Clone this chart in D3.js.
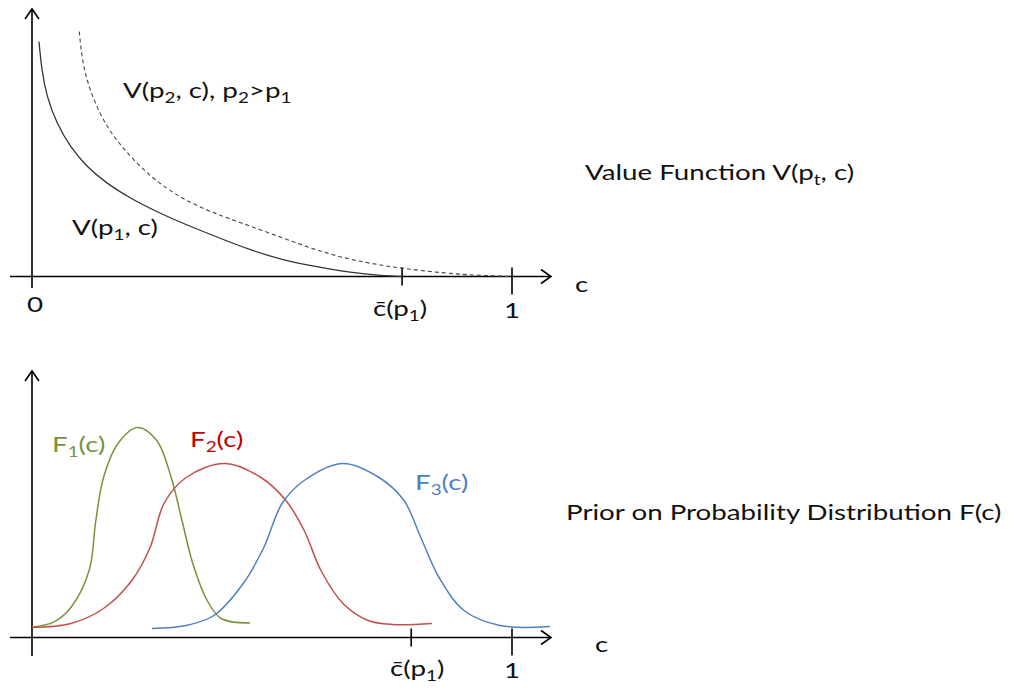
<!DOCTYPE html>
<html>
<head>
<meta charset="utf-8">
<script src="https://cdn.jsdelivr.net/npm/d3@7"></script>
<style>
  html, body { margin: 0; padding: 0; background: #fff; }
  svg text { font-family: Lato, "Open Sans", sans-serif; }
</style>
</head>
<body>
<svg id="chart" width="1015" height="692"></svg>
<script>
// ── data (c on [0,1], value in arbitrary units 0..10) ───────────
const vP1C = [0.0146, 0.0202, 0.0306, 0.0515, 0.0792, 0.114, 0.1556, 0.2042, 0.2598, 0.3223, 0.3917, 0.4542, 0.5229, 0.5938, 0.6625, 0.7313, 0.7708];
const vP1V = [9.03, 7.94, 6.92, 5.89, 4.99, 4.22, 3.58, 3.01, 2.49, 1.98, 1.47, 1.02, 0.63, 0.37, 0.15, 0.03, 0.0];
const vP2C = [0.0985, 0.1035, 0.114, 0.1313, 0.1556, 0.1869, 0.225, 0.2735, 0.3292, 0.3848, 0.4333, 0.5229, 0.5938, 0.6625, 0.7313, 0.7729, 0.8625, 0.9333, 1.0];
const vP2V = [9.42, 8.45, 7.56, 6.66, 5.76, 4.99, 4.22, 3.45, 2.83, 2.4, 2.08, 1.48, 1.0, 0.65, 0.42, 0.31, 0.12, 0.04, 0.0];

const f1C = [0, 0.045, 0.081, 0.119, 0.133, 0.149, 0.179, 0.22, 0.26, 0.29, 0.3125, 0.335, 0.365, 0.394, 0.454];
const f1V = [0.52, 0.77, 1.5, 3.35, 5.85, 8.0, 9.7, 10.5, 9.85, 8.0, 5.85, 3.7, 1.85, 0.95, 0.72];
const f2C = [0, 0.081, 0.149, 0.208, 0.246, 0.275, 0.321, 0.402, 0.477, 0.529, 0.567, 0.602, 0.648, 0.7, 0.752, 0.833];
const f2V = [0.5, 0.7, 1.45, 2.85, 4.5, 6.7, 8.0, 8.7, 8.0, 6.85, 5.35, 3.35, 1.7, 0.85, 0.65, 0.7];
const f3C = [0.25, 0.321, 0.379, 0.44, 0.483, 0.521, 0.567, 0.648, 0.723, 0.775, 0.81, 0.848, 0.9, 0.975, 1.079];
const f3V = [0.45, 0.6, 1.1, 2.7, 4.5, 6.7, 7.85, 8.7, 8.0, 6.85, 5.0, 3.0, 1.35, 0.6, 0.55];

// ticks: value on c axis
const topTicks = [0.771, 1];
const botTicks = [0.79, 1];

const zip = (xs, ys) => xs.map((x, i) => [x, ys[i]]);

const svg = d3.select("#chart");

// ── scales ──────────────────────────────────────────────────
const x = d3.scaleLinear().domain([0, 1]).range([32, 512]);
const yTop = d3.scaleLinear().domain([0, 10]).range([276.5, 16.5]);
const yBot = d3.scaleLinear().domain([0, 10]).range([637.5, 437.5]);

// ── axes with open arrowheads ───────────────────────────────
function drawAxes(axisY, yTopEnd, yBottomEnd, ticks, tickLens) {
  const g = svg.append("g").attr("stroke", "#000").attr("stroke-width", 1.6).attr("fill", "none");
  g.append("line").attr("x1", 10).attr("x2", 551).attr("y1", axisY).attr("y2", axisY);
  g.append("path").attr("d", `M541,${axisY - 7}L551,${axisY}L541,${axisY + 7}`);
  g.append("line").attr("x1", 32).attr("x2", 32).attr("y1", yBottomEnd).attr("y2", yTopEnd);
  g.append("path").attr("d", `M25,${yTopEnd + 10}L32,${yTopEnd}L39,${yTopEnd + 10}`);
  ticks.forEach((t, i) => {
    g.append("line").attr("x1", x(t)).attr("x2", x(t))
      .attr("y1", axisY - 9).attr("y2", axisY + tickLens[i]);
  });
}
drawAxes(276.5, 9, 288, topTicks, [9, 18]);
drawAxes(637.5, 371, 656, botTicks, [9, 18]);

// ── rich text helper (subscripts), text stretched wide like the source ──
const SX = 1.26;
function rich(xp, yp, parts, opts = {}) {
  const size = opts.size || 22;
  const t = svg.append("text")
    .attr("transform", `translate(${xp},${yp}) scale(${SX},1)`)
    .attr("font-size", size).attr("fill", opts.color || "#111")
    .attr("text-anchor", opts.anchor || "start");
  parts.forEach(p => {
    const s = t.append("tspan").text(p.t);
    if (p.sub) s.attr("font-size", size * 0.68).attr("dy", 5);
    else if (p.after) s.attr("dy", -5);
  });
  return t;
}
function parse(str) {
  // "_x" marks a single-char subscript
  const out = [];
  let afterSub = false;
  str.split(/(_.)/).filter(s => s.length).forEach(s => {
    if (s[0] === "_") { out.push({ t: s[1], sub: true }); afterSub = true; }
    else { out.push({ t: s, after: afterSub }); afterSub = false; }
  });
  return out;
}

// ── top chart: value function ───────────────────────────────
const lineTop = d3.line().x(d => x(d[0])).y(d => yTop(d[1])).curve(d3.curveBasis);
svg.append("path").datum(zip(vP1C, vP1V)).attr("d", lineTop)
  .attr("fill", "none").attr("stroke", "#333").attr("stroke-width", 1.3);
svg.append("path").datum(zip(vP2C, vP2V)).attr("d", lineTop)
  .attr("fill", "none").attr("stroke", "#444").attr("stroke-width", 1.1)
  .attr("stroke-dasharray", "4,3");

rich(123, 98, parse("V(p_2, c), p_2>p_1"));
rich(72, 235, parse("V(p_1, c)"));
rich(585, 180, parse("Value Function V(p_t, c)"));

rich(35, 312, [{ t: "0" }], { anchor: "middle" });
rich(x(topTicks[0]) - 2, 316, parse("c\u0304(p_1)"), { anchor: "middle" });
rich(x(topTicks[1]), 318, [{ t: "1" }], { anchor: "middle" });
rich(575, 292, [{ t: "c" }]);

// ── bottom chart: prior distributions ───────────────────────
const lineBot = d3.line().x(d => x(d[0])).y(d => yBot(d[1])).curve(d3.curveCatmullRom.alpha(0.5));
const series = [
  { c: f1C, v: f1V, stroke: "#77933C" },
  { c: f2C, v: f2V, stroke: "#C0504D" },
  { c: f3C, v: f3V, stroke: "#4F81BD" },
];
series.forEach(s => {
  svg.append("path").datum(zip(s.c, s.v)).attr("d", lineBot)
    .attr("fill", "none").attr("stroke", s.stroke).attr("stroke-width", 1.5);
});

rich(52, 452, parse("F_1(c)"), { color: "#77933C" });
rich(190, 447, parse("F_2(c)"), { color: "#C00000" });
rich(415, 490, parse("F_3(c)"), { color: "#4F81BD" });
rich(566, 520, parse("Prior on Probability Distribution F(c)"));

rich(x(botTicks[0]) + 6, 676, parse("c\u0304(p_1)"), { anchor: "middle" });
rich(x(botTicks[1]), 678, [{ t: "1" }], { anchor: "middle" });
rich(595, 652, [{ t: "c" }]);
</script>
</body>
</html>
